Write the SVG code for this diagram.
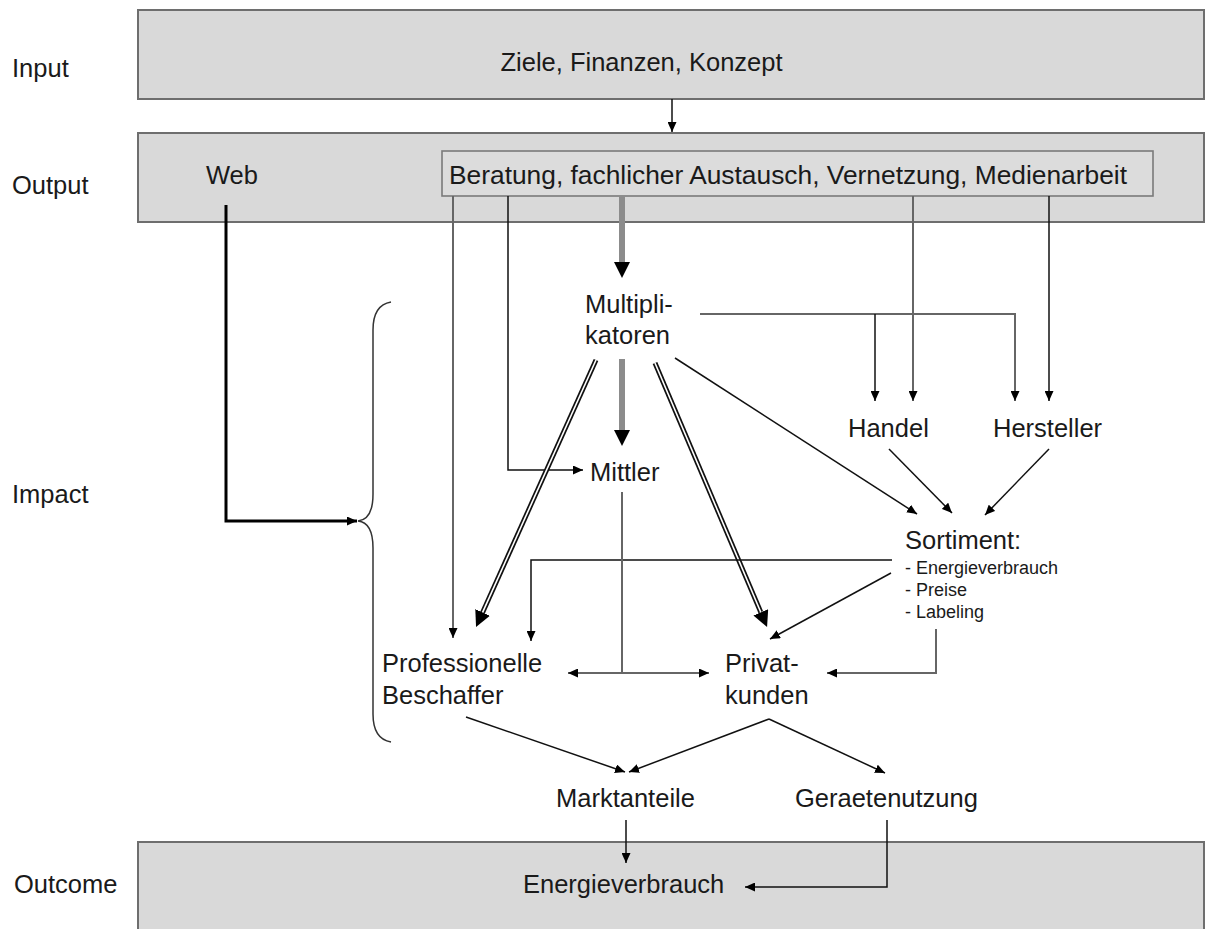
<svg xmlns="http://www.w3.org/2000/svg" width="1207" height="929" viewBox="0 0 1207 929">
<defs>
<style>
text{font-family:"Liberation Sans",Arial,Helvetica,sans-serif;font-size:25.5px;fill:#1a1a1a}
.small{font-size:18px}
.band{fill:#d9d9d9;stroke:#6e6e6e;stroke-width:2}
.inner{fill:#dcdcdc;stroke:#7a7a7a;stroke-width:1.6}
.ln{fill:none;stroke:#111;stroke-width:1.5}
.gl{fill:none;stroke:#666;stroke-width:2}
.web{fill:none;stroke:#000;stroke-width:3}
.thick{fill:none;stroke:#8c8c8c;stroke-width:6}
.dblo{fill:none;stroke:#111;stroke-width:5}
.dbli{fill:none;stroke:#fff;stroke-width:1.6}
.brace{fill:none;stroke:#333;stroke-width:1.5}
</style>
<marker id="a" markerUnits="userSpaceOnUse" markerWidth="11" markerHeight="9" refX="10" refY="4.5" orient="auto">
<path d="M0,0 L10,4.5 L0,9 z" fill="#000"/>
</marker>
<marker id="b" markerUnits="userSpaceOnUse" markerWidth="17" markerHeight="16" refX="0" refY="8" orient="auto">
<path d="M0,0 L16,8 L0,16 z" fill="#000"/>
</marker>
</defs>

<g id="input">
<rect class="band" x="138" y="10" width="1066" height="89"/>
<text x="12" y="77">Input</text>
<text x="641.5" y="71" text-anchor="middle">Ziele, Finanzen, Konzept</text>
</g>

<g id="output">
<rect class="band" x="138" y="133" width="1066" height="89"/>
<text x="12" y="194">Output</text>
<text x="206" y="184">Web</text>
</g>

<g id="beratung">
<rect class="inner" x="442" y="151" width="711" height="45"/>
<text x="788" y="184" text-anchor="middle" textLength="678" lengthAdjust="spacingAndGlyphs">Beratung, fachlicher Austausch, Vernetzung, Medienarbeit</text>
</g>

<g id="impact-label"><text x="12" y="503">Impact</text></g>
<g id="impact-brace"><path class="brace" d="M391,302 C379,304 373,314 373,330 L373,494 C373,512 368,520 358,521 C368,522 373,530 373,548 L373,714 C373,730 379,740 391,742"/></g>

<g id="multiplikatoren"><text x="585" y="313">Multipli-</text><text x="585" y="344">katoren</text></g>
<g id="mittler"><text x="590" y="481">Mittler</text></g>
<g id="handel"><text x="848" y="437">Handel</text></g>
<g id="hersteller"><text x="993" y="437">Hersteller</text></g>
<g id="sortiment">
<text x="905" y="549">Sortiment:</text>
<text class="small" x="905" y="574">- Energieverbrauch</text>
<text class="small" x="905" y="596">- Preise</text>
<text class="small" x="905" y="618">- Labeling</text>
</g>
<g id="professionelle"><text x="382" y="672">Professionelle</text><text x="382" y="704">Beschaffer</text></g>
<g id="privatkunden"><text x="725" y="672">Privat-</text><text x="725" y="704">kunden</text></g>
<g id="marktanteile"><text x="556" y="807">Marktanteile</text></g>
<g id="geraetenutzung"><text x="795" y="807">Geraetenutzung</text></g>

<g id="outcome">
<rect class="band" x="138" y="842" width="1066" height="100"/>
<text x="14" y="893">Outcome</text>
<text x="523" y="893">Energieverbrauch</text>
</g>

<g id="connectors">
<path class="ln" stroke="#444" d="M672,99 V132" marker-end="url(#a)"/>
<path class="web" d="M226,205 V521 H357" marker-end="url(#a)"/>
<path class="gl" d="M453,196 V638" marker-end="url(#a)"/>
<path class="ln" d="M508,196 V470 H583" marker-end="url(#a)"/>
<path class="thick" d="M622,196 V262" marker-end="url(#b)"/>
<path class="thick" d="M622,359 V430" marker-end="url(#b)"/>
<path class="gl" d="M700,314 H1015 V401" marker-end="url(#a)"/>
<path class="ln" d="M875,314 V401" marker-end="url(#a)"/>
<path class="gl" d="M913,196 V401" marker-end="url(#a)"/>
<path class="ln" d="M1049,196 V401" marker-end="url(#a)"/>
<path class="ln" d="M675,358 L917,514" marker-end="url(#a)"/>
<path class="ln" d="M889,449 L952,513" marker-end="url(#a)"/>
<path class="ln" d="M1049,449 L985,515" marker-end="url(#a)"/>
<path class="dblo" d="M596,360 L482.6,612.4" marker-end="url(#b)"/>
<path class="dbli" d="M596,360 L482.6,612.4"/>
<path class="dblo" d="M655,363 L760.8,612.3" marker-end="url(#b)"/>
<path class="dbli" d="M655,363 L760.8,612.3"/>
<path class="ln" stroke-width="1.8" d="M892,560 H531 V641" marker-end="url(#a)"/>
<path class="gl" d="M622,492 V673"/>
<path class="gl" d="M622,673 H568" marker-end="url(#a)"/>
<path class="gl" d="M622,673 H709" marker-end="url(#a)"/>
<path class="ln" d="M891,573 L770,639" marker-end="url(#a)"/>
<path class="gl" d="M936,629 V673 H827" marker-end="url(#a)"/>
<path class="ln" d="M466,717 L625,772" marker-end="url(#a)"/>
<path class="ln" d="M769,719 L629,772" marker-end="url(#a)"/>
<path class="ln" d="M769,719 L885,773" marker-end="url(#a)"/>
<path class="ln" d="M626,820 V863" marker-end="url(#a)"/>
<path class="ln" d="M887,820 V887 H745" marker-end="url(#a)"/>
</g>
</svg>
